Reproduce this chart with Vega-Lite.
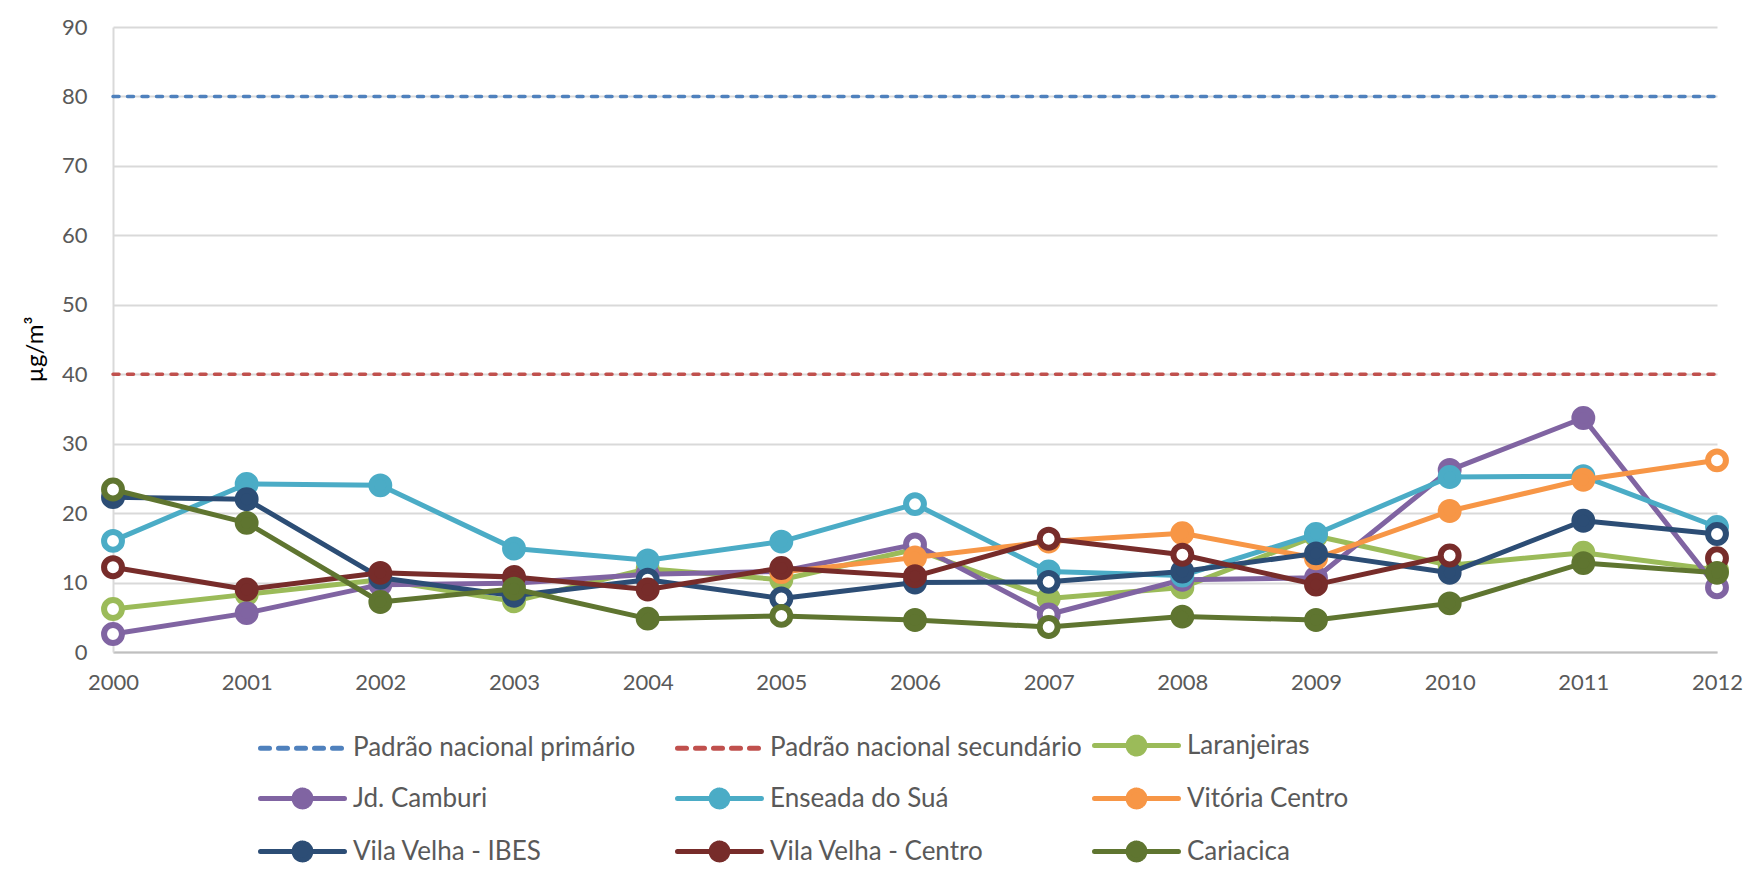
{
  "$schema": "https://vega.github.io/schema/vega-lite/v6.json",
  "width": 1604,
  "height": 625,
  "autosize": {"type": "none"},
  "padding": {"left": 113, "top": 27, "right": 32, "bottom": 217},
  "background": "white",
  "config": {
    "view": {"stroke": null},
    "font": "Lato",
    "axis": {"labelFont": "Lato", "titleFont": "Lato"},
    "axisY": {"titleFontSize": 24, "titleFontWeight": "normal", "titleColor": "#000000"},
    "legend": {"labelFont": "Lato"}
  },
  "data": {
    "values": [
      {"s": "Padrão nacional primário", "y": 2000, "v": 80},
      {"s": "Padrão nacional primário", "y": 2012, "v": 80},
      {"s": "Padrão nacional secundário", "y": 2000, "v": 40},
      {"s": "Padrão nacional secundário", "y": 2012, "v": 40},
      {"s": "Laranjeiras", "y": 2000, "v": 6.2, "o": true},
      {"s": "Laranjeiras", "y": 2001, "v": 8.3},
      {"s": "Laranjeiras", "y": 2002, "v": 10.4},
      {"s": "Laranjeiras", "y": 2003, "v": 7.3},
      {"s": "Laranjeiras", "y": 2004, "v": 12.0},
      {"s": "Laranjeiras", "y": 2005, "v": 10.4},
      {"s": "Laranjeiras", "y": 2006, "v": 14.8},
      {"s": "Laranjeiras", "y": 2007, "v": 7.7},
      {"s": "Laranjeiras", "y": 2008, "v": 9.3},
      {"s": "Laranjeiras", "y": 2009, "v": 16.7},
      {"s": "Laranjeiras", "y": 2010, "v": 12.5},
      {"s": "Laranjeiras", "y": 2011, "v": 14.3},
      {"s": "Laranjeiras", "y": 2012, "v": 11.8},
      {"s": "Jd. Camburi", "y": 2000, "v": 2.6, "o": true},
      {"s": "Jd. Camburi", "y": 2001, "v": 5.6},
      {"s": "Jd. Camburi", "y": 2002, "v": 9.7},
      {"s": "Jd. Camburi", "y": 2003, "v": 9.9},
      {"s": "Jd. Camburi", "y": 2004, "v": 11.2},
      {"s": "Jd. Camburi", "y": 2005, "v": 11.6},
      {"s": "Jd. Camburi", "y": 2006, "v": 15.5, "o": true},
      {"s": "Jd. Camburi", "y": 2007, "v": 5.4, "o": true},
      {"s": "Jd. Camburi", "y": 2008, "v": 10.4},
      {"s": "Jd. Camburi", "y": 2009, "v": 10.7},
      {"s": "Jd. Camburi", "y": 2010, "v": 26.2},
      {"s": "Jd. Camburi", "y": 2011, "v": 33.7},
      {"s": "Jd. Camburi", "y": 2012, "v": 9.3, "o": true},
      {"s": "Enseada do Suá", "y": 2000, "v": 16.0, "o": true},
      {"s": "Enseada do Suá", "y": 2001, "v": 24.2},
      {"s": "Enseada do Suá", "y": 2002, "v": 24.0},
      {"s": "Enseada do Suá", "y": 2003, "v": 14.9},
      {"s": "Enseada do Suá", "y": 2004, "v": 13.2},
      {"s": "Enseada do Suá", "y": 2005, "v": 15.9},
      {"s": "Enseada do Suá", "y": 2006, "v": 21.3, "o": true},
      {"s": "Enseada do Suá", "y": 2007, "v": 11.6},
      {"s": "Enseada do Suá", "y": 2008, "v": 11.0},
      {"s": "Enseada do Suá", "y": 2009, "v": 17.0},
      {"s": "Enseada do Suá", "y": 2010, "v": 25.2},
      {"s": "Enseada do Suá", "y": 2011, "v": 25.3},
      {"s": "Enseada do Suá", "y": 2012, "v": 18.0},
      {"s": "Vitória Centro", "y": 2005, "v": 11.5},
      {"s": "Vitória Centro", "y": 2006, "v": 13.6},
      {"s": "Vitória Centro", "y": 2007, "v": 15.9},
      {"s": "Vitória Centro", "y": 2008, "v": 17.1},
      {"s": "Vitória Centro", "y": 2009, "v": 13.5},
      {"s": "Vitória Centro", "y": 2010, "v": 20.3},
      {"s": "Vitória Centro", "y": 2011, "v": 24.8},
      {"s": "Vitória Centro", "y": 2012, "v": 27.6, "o": true},
      {"s": "Vila Velha - IBES", "y": 2000, "v": 22.3},
      {"s": "Vila Velha - IBES", "y": 2001, "v": 22.0},
      {"s": "Vila Velha - IBES", "y": 2002, "v": 10.7},
      {"s": "Vila Velha - IBES", "y": 2003, "v": 8.1},
      {"s": "Vila Velha - IBES", "y": 2004, "v": 10.4, "o": true},
      {"s": "Vila Velha - IBES", "y": 2005, "v": 7.7, "o": true},
      {"s": "Vila Velha - IBES", "y": 2006, "v": 10.0},
      {"s": "Vila Velha - IBES", "y": 2007, "v": 10.1, "o": true},
      {"s": "Vila Velha - IBES", "y": 2008, "v": 11.6},
      {"s": "Vila Velha - IBES", "y": 2009, "v": 14.2},
      {"s": "Vila Velha - IBES", "y": 2010, "v": 11.4},
      {"s": "Vila Velha - IBES", "y": 2011, "v": 18.9},
      {"s": "Vila Velha - IBES", "y": 2012, "v": 17.0, "o": true},
      {"s": "Vila Velha - Centro", "y": 2000, "v": 12.2, "o": true},
      {"s": "Vila Velha - Centro", "y": 2001, "v": 9.0},
      {"s": "Vila Velha - Centro", "y": 2002, "v": 11.4},
      {"s": "Vila Velha - Centro", "y": 2003, "v": 10.8},
      {"s": "Vila Velha - Centro", "y": 2004, "v": 9.0},
      {"s": "Vila Velha - Centro", "y": 2005, "v": 12.1},
      {"s": "Vila Velha - Centro", "y": 2006, "v": 10.9},
      {"s": "Vila Velha - Centro", "y": 2007, "v": 16.3, "o": true},
      {"s": "Vila Velha - Centro", "y": 2008, "v": 14.0, "o": true},
      {"s": "Vila Velha - Centro", "y": 2009, "v": 9.7},
      {"s": "Vila Velha - Centro", "y": 2010, "v": 13.9, "o": true},
      {"s": "Vila Velha - Centro", "y": 2011, "v": null},
      {"s": "Vila Velha - Centro", "y": 2012, "v": 13.5, "o": true},
      {"s": "Cariacica", "y": 2000, "v": 23.4, "o": true},
      {"s": "Cariacica", "y": 2001, "v": 18.6},
      {"s": "Cariacica", "y": 2002, "v": 7.2},
      {"s": "Cariacica", "y": 2003, "v": 9.1},
      {"s": "Cariacica", "y": 2004, "v": 4.8},
      {"s": "Cariacica", "y": 2005, "v": 5.2, "o": true},
      {"s": "Cariacica", "y": 2006, "v": 4.6},
      {"s": "Cariacica", "y": 2007, "v": 3.6, "o": true},
      {"s": "Cariacica", "y": 2008, "v": 5.1},
      {"s": "Cariacica", "y": 2009, "v": 4.6},
      {"s": "Cariacica", "y": 2010, "v": 7.0},
      {"s": "Cariacica", "y": 2011, "v": 12.8},
      {"s": "Cariacica", "y": 2012, "v": 11.4}
    ]
  },
  "encoding": {
    "x": {
      "field": "y", "type": "quantitative",
      "scale": {"domain": [2000, 2012], "nice": false, "zero": false},
      "axis": {
        "values": [2000, 2001, 2002, 2003, 2004, 2005, 2006, 2007, 2008, 2009, 2010, 2011, 2012],
        "format": "d", "grid": false, "title": null, "ticks": false, "tickSize": 0,
        "labelPadding": 20, "labelFontSize": 22, "labelColor": "#595959", "labelFlush": false,
        "domainColor": "#BFBFBF", "domainWidth": 2
      }
    },
    "y": {
      "field": "v", "type": "quantitative",
      "scale": {"domain": [0, 90], "nice": false},
      "axis": {
        "values": [0, 10, 20, 30, 40, 50, 60, 70, 80, 90],
        "title": "µg/m³", "titleFontSize": 24, "titleFontWeight": "normal", "titleColor": "#000000", "titlePadding": 14, "titleY": 322,
        "grid": true, "gridColor": "#D9D9D9", "gridWidth": 2,
        "ticks": false, "tickSize": 0, "labelPadding": 26, "labelFontSize": 22, "labelColor": "#595959",
        "domainColor": "#D9D9D9", "domainWidth": 2
      }
    },
    "color": {
      "field": "s", "type": "nominal",
      "scale": {
        "domain": ["Padrão nacional primário", "Padrão nacional secundário", "Laranjeiras", "Jd. Camburi", "Enseada do Suá", "Vitória Centro", "Vila Velha - IBES", "Vila Velha - Centro", "Cariacica"],
        "range": ["#4F81BD", "#C0504D", "#9BBB59", "#8064A2", "#4BACC6", "#F79646", "#2C4D75", "#772C2A", "#5F7530"]
      },
      "legend": {
        "title": null, "orient": "none", "legendX": 145, "legendY": 695, "columns": 3, "direction": "horizontal", "padding": 0,
        "symbolSize": 1764, "symbolStrokeWidth": 5, "labelFontSize": 26, "labelColor": "#595959",
        "labelOffset": 48, "labelLimit": 500, "rowPadding": 11, "columnPadding": 2, "gridAlign": "all",
        "encode": {
          "symbols": {
            "update": {
              "shape": {"signal": "indexof(datum.value,'Padrão')===0 ? 'M-1,0H3' : 'M-1,0H3M1.4,0A0.4,0.4,0,1,1,0.6,0A0.4,0.4,0,1,1,1.4,0'"},
              "strokeDash": {"signal": "indexof(datum.value,'Padrão')===0 ? [9,9] : [1,0]"},
              "fill": {"scale": "color", "field": "value"},
              "stroke": {"scale": "color", "field": "value"},
              "strokeCap": {"value": "round"},
              "opacity": {"value": 1}
            }
          }
        }
      }
    }
  },
  "layer": [
    {"transform": [{"filter": "indexof(datum.s,'Padrão')===0"}], "mark": {"type": "line", "strokeWidth": 3.5, "strokeDash": [6, 8.5], "strokeCap": "round"}},
    {"transform": [{"filter": "datum.s==='Laranjeiras'"}], "mark": {"type": "line", "strokeWidth": 5, "strokeJoin": "round", "strokeCap": "round"}},
    {"transform": [{"filter": "datum.s==='Laranjeiras'"}], "mark": {"type": "point", "shape": "circle", "size": 320, "strokeWidth": 6, "opacity": 1, "filled": false},
     "encoding": {"fill": {"condition": {"test": "datum.o", "value": "white"}, "field": "s", "type": "nominal", "scale": {"domain": ["Padrão nacional primário", "Padrão nacional secundário", "Laranjeiras", "Jd. Camburi", "Enseada do Suá", "Vitória Centro", "Vila Velha - IBES", "Vila Velha - Centro", "Cariacica"], "range": ["#4F81BD", "#C0504D", "#9BBB59", "#8064A2", "#4BACC6", "#F79646", "#2C4D75", "#772C2A", "#5F7530"]}, "legend": null}}},
    {"transform": [{"filter": "datum.s==='Jd. Camburi'"}], "mark": {"type": "line", "strokeWidth": 5, "strokeJoin": "round", "strokeCap": "round"}},
    {"transform": [{"filter": "datum.s==='Jd. Camburi'"}], "mark": {"type": "point", "shape": "circle", "size": 320, "strokeWidth": 6, "opacity": 1, "filled": false},
     "encoding": {"fill": {"condition": {"test": "datum.o", "value": "white"}, "field": "s", "type": "nominal", "legend": null}}},
    {"transform": [{"filter": "datum.s==='Enseada do Suá'"}], "mark": {"type": "line", "strokeWidth": 5, "strokeJoin": "round", "strokeCap": "round"}},
    {"transform": [{"filter": "datum.s==='Enseada do Suá'"}], "mark": {"type": "point", "shape": "circle", "size": 320, "strokeWidth": 6, "opacity": 1, "filled": false},
     "encoding": {"fill": {"condition": {"test": "datum.o", "value": "white"}, "field": "s", "type": "nominal", "legend": null}}},
    {"transform": [{"filter": "datum.s==='Vitória Centro'"}], "mark": {"type": "line", "strokeWidth": 5, "strokeJoin": "round", "strokeCap": "round"}},
    {"transform": [{"filter": "datum.s==='Vitória Centro'"}], "mark": {"type": "point", "shape": "circle", "size": 320, "strokeWidth": 6, "opacity": 1, "filled": false},
     "encoding": {"fill": {"condition": {"test": "datum.o", "value": "white"}, "field": "s", "type": "nominal", "legend": null}}},
    {"transform": [{"filter": "datum.s==='Vila Velha - IBES'"}], "mark": {"type": "line", "strokeWidth": 5, "strokeJoin": "round", "strokeCap": "round"}},
    {"transform": [{"filter": "datum.s==='Vila Velha - IBES'"}], "mark": {"type": "point", "shape": "circle", "size": 320, "strokeWidth": 6, "opacity": 1, "filled": false},
     "encoding": {"fill": {"condition": {"test": "datum.o", "value": "white"}, "field": "s", "type": "nominal", "legend": null}}},
    {"transform": [{"filter": "datum.s==='Vila Velha - Centro'"}], "mark": {"type": "line", "strokeWidth": 5, "strokeJoin": "round", "strokeCap": "round"}},
    {"transform": [{"filter": "datum.s==='Vila Velha - Centro'"}], "mark": {"type": "point", "shape": "circle", "size": 320, "strokeWidth": 6, "opacity": 1, "filled": false},
     "encoding": {"fill": {"condition": {"test": "datum.o", "value": "white"}, "field": "s", "type": "nominal", "legend": null}}},
    {"transform": [{"filter": "datum.s==='Cariacica'"}], "mark": {"type": "line", "strokeWidth": 5, "strokeJoin": "round", "strokeCap": "round"}},
    {"transform": [{"filter": "datum.s==='Cariacica'"}], "mark": {"type": "point", "shape": "circle", "size": 320, "strokeWidth": 6, "opacity": 1, "filled": false},
     "encoding": {"fill": {"condition": {"test": "datum.o", "value": "white"}, "field": "s", "type": "nominal", "legend": null}}}
  ]
}
